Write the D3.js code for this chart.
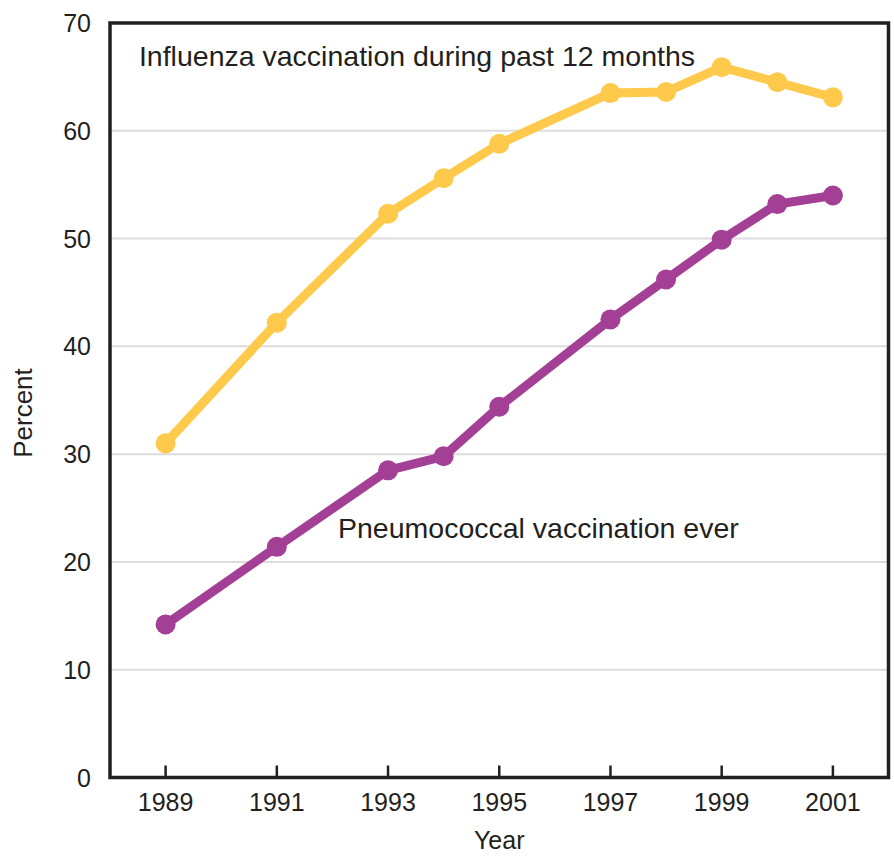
<!DOCTYPE html>
<html>
<head>
<meta charset="utf-8">
<script src="https://cdn.jsdelivr.net/npm/d3@7"></script>
<style>
  body { margin: 0; background: #fff; }
  text { font-family: "Liberation Sans", Arial, sans-serif; fill: #231f20; }
</style>
</head>
<body>
<div id="chart"></div>
<script>
// Vaccination among older adults, 1989-2001

var years = [1989, 1991, 1993, 1994, 1995, 1997, 1998, 1999, 2000, 2001];
var influenza = [31.0, 42.2, 52.3, 55.6, 58.8, 63.5, 63.6, 65.9, 64.5, 63.1];
var pneumococcal = [14.2, 21.4, 28.5, 29.8, 34.4, 42.5, 46.2, 49.9, 53.2, 54.0];
var xTicks = [1989, 1991, 1993, 1995, 1997, 1999, 2001];
var yTicks = [0, 10, 20, 30, 40, 50, 60, 70];

var margin = {top: 23, right: 5, bottom: 78, left: 110},
  width = 894 - margin.left - margin.right,
  height = 856 - margin.top - margin.bottom;

var svg = d3.select("#chart")
  .append("svg")
    .attr("width", 894)
    .attr("height", 856)
  .append("g")
    .attr("transform", "translate(" + margin.left + "," + margin.top + ")");

var x = d3.scaleLinear().domain([1988, 2002]).range([0, 778.5]);
var y = d3.scaleLinear().domain([0, 70]).range([754.5, 0]);

// gridlines
svg.selectAll(".grid")
  .data(yTicks.filter(function(d) { return d > 0 && d < 70; }))
  .enter().append("line")
    .attr("x1", 0).attr("x2", x(2002))
    .attr("y1", function(d) { return y(d); })
    .attr("y2", function(d) { return y(d); })
    .style("stroke", "#dcdcdc")
    .style("stroke-width", 2);

// y labels
svg.selectAll(".ylab")
  .data(yTicks)
  .enter().append("text")
    .attr("x", -19)
    .attr("y", function(d) { return y(d); })
    .attr("dy", "0.36em")
    .attr("text-anchor", "end")
    .style("font-size", "25px")
    .text(function(d) { return d; });

// x ticks pointing up
svg.selectAll(".xtick")
  .data(xTicks)
  .enter().append("line")
    .attr("x1", function(d) { return x(d); })
    .attr("x2", function(d) { return x(d); })
    .attr("y1", y(0)).attr("y2", y(0) - 12)
    .style("stroke", "#231f20")
    .style("stroke-width", 2.5);

svg.selectAll(".xlab")
  .data(xTicks)
  .enter().append("text")
    .attr("x", function(d) { return x(d); })
    .attr("y", y(0) + 33.5)
    .attr("text-anchor", "middle")
    .style("font-size", "25px")
    .text(function(d) { return d; });

// frame
svg.append("rect")
  .attr("x", 0).attr("y", 0)
  .attr("width", x(2002)).attr("height", y(0))
  .style("fill", "none")
  .style("stroke", "#231f20")
  .style("stroke-width", 3.5);

// series
var series = [
  {name: "Influenza vaccination during past 12 months", values: influenza, color: "#ffc94b"},
  {name: "Pneumococcal vaccination ever", values: pneumococcal, color: "#a43f96"}
];

var line = d3.line()
  .x(function(d, i) { return x(years[i]); })
  .y(function(d) { return y(d); });

series.forEach(function(s) {
  svg.append("path")
    .datum(s.values)
    .attr("d", line)
    .style("fill", "none")
    .style("stroke", s.color)
    .style("stroke-width", 9)
    .style("stroke-linejoin", "round");

  svg.selectAll(null)
    .data(s.values)
    .enter().append("circle")
      .attr("cx", function(d, i) { return x(years[i]); })
      .attr("cy", function(d) { return y(d); })
      .attr("r", 10)
      .style("fill", s.color);
});

// series labels
svg.append("text")
  .attr("x", x(1988.52))
  .attr("y", 66 - margin.top)
  .style("font-size", "28.5px")
  .text(series[0].name);

svg.append("text")
  .attr("x", x(1992.1))
  .attr("y", 538 - margin.top)
  .style("font-size", "28.5px")
  .text(series[1].name);

// axis titles
svg.append("text")
  .attr("x", x(1995))
  .attr("y", 849 - margin.top)
  .attr("text-anchor", "middle")
  .style("font-size", "25px")
  .text("Year");

svg.append("text")
  .attr("transform", "rotate(-90)")
  .attr("x", -(413 - margin.top))
  .attr("y", 32 - margin.left)
  .attr("text-anchor", "middle")
  .style("font-size", "26px")
  .text("Percent");
</script>
</body>
</html>
